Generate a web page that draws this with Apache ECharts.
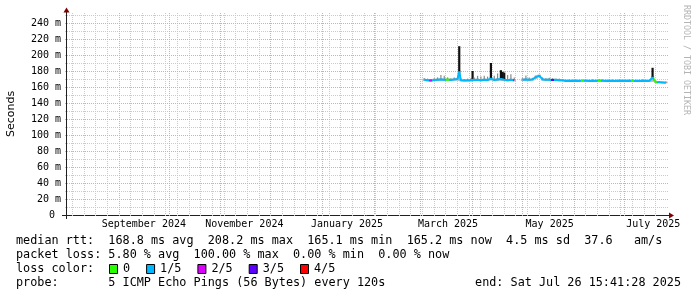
<!DOCTYPE html>
<html><head><meta charset="utf-8">
<script src="https://cdn.jsdelivr.net/npm/echarts@6/dist/echarts.min.js"></script>
<style>html,body{margin:0;padding:0;background:#fff}#c{width:697px;height:297px}</style>
</head><body><div id="c"></div>
<script>
// ---------------- data ----------------
const startTime = '2024-07-31 15:41:28';
const endTime = '2025-07-26 15:41:28';

const dates = [
 '2025-03-03','2025-03-05','2025-03-07','2025-03-09','2025-03-11','2025-03-13','2025-03-15','2025-03-17',
 '2025-03-19','2025-03-21','2025-03-23','2025-03-24','2025-03-25','2025-03-27','2025-03-29','2025-03-31',
 '2025-04-01','2025-04-02','2025-04-04','2025-04-06','2025-04-08','2025-04-10','2025-04-12','2025-04-14',
 '2025-04-16','2025-04-18','2025-04-19','2025-04-20','2025-04-22','2025-04-24','2025-04-26',
 '2025-04-28',
 '2025-05-01','2025-05-03','2025-05-05','2025-05-07','2025-05-09','2025-05-11','2025-05-13','2025-05-15',
 '2025-05-17','2025-05-19','2025-05-21','2025-05-23','2025-05-25','2025-05-27','2025-05-29','2025-05-31',
 '2025-06-02','2025-06-04','2025-06-06','2025-06-08','2025-06-10','2025-06-12','2025-06-14','2025-06-16',
 '2025-06-18','2025-06-20','2025-06-22','2025-06-24','2025-06-26','2025-06-28','2025-06-30',
 '2025-07-02','2025-07-04','2025-07-06','2025-07-08','2025-07-10','2025-07-12','2025-07-14','2025-07-16',
 '2025-07-18','2025-07-20','2025-07-22','2025-07-24','2025-07-26'
];
// median rtt (ms)
const median = [
 169.0,168.5,168.0,168.8,169.2,169.5,169.0,169.3,168.8,169.5,170.0,179.0,168.3,168.0,168.2,168.5,
 169.5,168.8,169.0,168.5,169.2,168.8,170.5,168.8,169.5,170.0,169.5,169.0,168.5,169.0,168.5,
 null,
 169.0,169.5,169.0,169.5,172.5,174.0,169.5,169.0,169.2,168.8,169.0,168.5,168.5,167.5,167.8,167.5,
 167.8,167.5,168.0,167.8,167.5,167.8,167.5,168.0,167.8,167.5,167.8,167.5,167.6,167.8,167.5,
 167.6,167.8,167.5,167.6,167.5,167.8,167.5,167.6,172.0,166.0,165.8,165.5,165.2
];
// smoke: lowest and highest ping (ms)
const smokeLo = [
 167.5,167.0,166.5,167.5,167.5,168.0,167.5,167.8,167.5,168.0,168.0,168.0,167.0,166.8,167.0,167.0,
 167.5,167.3,167.5,167.0,167.5,167.3,168.0,167.3,167.5,168.0,167.5,167.5,167.0,167.5,167.0,
 null,
 167.5,168.0,167.5,168.0,170.0,172.0,168.0,167.5,167.5,167.3,167.5,167.0,167.0,166.5,166.5,166.3,
 166.5,166.3,166.5,166.5,166.3,166.5,166.3,166.5,166.5,166.3,166.5,166.3,166.3,166.5,166.3,
 166.3,166.5,166.3,166.3,166.3,166.5,166.3,166.3,166.5,165.0,164.8,164.5,164.5
];
const smokeHi = [
 171.0,170.5,170.0,171.0,172.0,175.0,174.0,172.0,171.0,172.0,173.0,211.0,171.0,170.0,170.5,171.0,
 180.0,172.0,174.0,173.0,174.0,173.0,190.0,174.0,177.0,181.0,179.0,178.0,175.0,176.0,172.0,
 null,
 171.0,174.5,172.0,171.5,174.5,175.5,172.0,171.0,171.5,171.0,170.5,170.5,170.0,169.5,169.5,169.5,
 169.5,169.5,169.5,169.5,169.5,169.5,169.5,170.0,169.5,169.5,169.5,169.5,169.5,169.5,169.5,
 169.5,169.5,169.5,169.5,169.5,169.5,169.5,169.5,184.0,168.0,167.5,167.0,167.0
];
// loss class per point (0 = none, 1 = 1/5, 2 = 2/5, 3 = 3/5, 4 = 4/5)
const lossLevel = [
 1,1,2,1,1,1,1,0,1,1,1,1,1,1,1,1,
 1,1,1,1,1,1,1,1,1,1,1,1,1,1,2,
 null,
 1,1,1,1,1,1,1,1,1,3,1,1,1,1,1,1,
 1,1,0,1,1,1,1,0,1,1,1,1,1,1,1,
 1,1,0,1,1,1,1,1,1,0,1,1,1
];

const xLabelTimes = ['2024-09-15 18:00','2024-11-15 01:00','2025-01-15 16:00','2025-03-17 06:00','2025-05-17 06:00','2025-07-18 10:00'];
const xLabelTexts = ['September 2024','November 2024','January 2025','March 2025','May 2025','July 2025'];
const yTickValues = [0,20,40,60,80,100,120,140,160,180,200,220,240];

const lossNames = ['0','1/5','2/5','3/5','4/5'];
const lossColors = ['#26ff00','#00b8ff','#dd00ff','#5e00ff','#ff0000'];

const legendRtt = 'median rtt:  168.8 ms avg  208.2 ms max  165.1 ms min  165.2 ms now  4.5 ms sd  37.6   am/s';
const legendLoss = 'packet loss: 5.80 % avg  100.00 % max  0.00 % min  0.00 % now';
const legendLossColor = 'loss color:';
const legendProbe = 'probe:       5 ICMP Echo Pings (56 Bytes) every 120s';
const legendEnd = 'end: Sat Jul 26 15:41:28 2025';
const watermark = 'RRDTOOL / TOBI OETIKER';
const yTitle = 'Seconds';

// ---------------- helpers ----------------
const DAY = 86400000;
function ts(s) {
  const parts = s.split(' ');
  const d = parts[0].split('-').map(Number);
  let h = 0, mi = 0, se = 0;
  if (parts[1]) { const tt = parts[1].split(':').map(Number); h = tt[0]; mi = tt[1] || 0; se = tt[2] || 0; }
  return new Date(d[0], d[1] - 1, d[2], h, mi, se).getTime();
}
const xMin = ts(startTime), xMax = ts(endTime);
const L = 67, T = 15, W = 600, H = 200;
const MONO = '"DejaVu Sans Mono"';
const GRID_MINOR = '#cacaca', GRID_MAJOR = '#f4a0a0';
const xLabelValues = xLabelTimes.map(ts);

// grid line positions
const weekLines = [];
for (let d = new Date(2024, 7, 4); d.getTime() <= xMax; d.setDate(d.getDate() + 7)) weekLines.push(d.getTime());
const monthLines = [];
for (let m = 8; m <= 18; m++) monthLines.push(new Date(2024, m, 1).getTime());
const minorY = [], majorY = [];
for (let v = 10; v <= 250; v += 20) minorY.push(v);
for (let v = 20; v <= 240; v += 20) majorY.push(v);

const medianData = dates.map((d, i) => [ts(d), median[i]]);
const smokeData = [];
dates.forEach((d, i) => { if (smokeLo[i] != null) smokeData.push([ts(d), smokeLo[i], smokeHi[i], median[i]]); });

const pieces = [];
dates.forEach((d, i) => {
  if (lossLevel[i] != null && lossLevel[i] !== 1) {
    const c = ts(d);
    pieces.push({ gt: c - 0.9 * DAY, lte: c + 0.9 * DAY, color: lossColors[lossLevel[i]] });
  }
});

function vGridSeries(list, color) {
  return {
    type: 'custom', silent: true, z: 1, data: list.map(v => [v, 0]),
    renderItem: function (params, api) {
      const cs = params.coordSys;
      const x = Math.floor(api.coord([api.value(0), 0])[0]) + 0.5;
      return { type: 'line', shape: { x1: x, y1: cs.y - 2, x2: x, y2: cs.y + cs.height + 2 },
        style: { stroke: color, fill: null, lineWidth: 1, lineDash: [1, 1] } };
    }
  };
}
function hGridSeries(list, color) {
  return {
    type: 'custom', silent: true, z: 1, data: list.map(v => [xMin, v]),
    renderItem: function (params, api) {
      const cs = params.coordSys;
      const y = Math.floor(api.coord([api.value(0), api.value(1)])[1]) + 0.5;
      return { type: 'line', shape: { x1: cs.x - 2, y1: y, x2: cs.x + cs.width + 2, y2: y },
        style: { stroke: color, fill: null, lineWidth: 1, lineDash: [1, 1] } };
    }
  };
}

// ---------------- chart ----------------
const chart = echarts.init(document.getElementById('c'), null, { renderer: 'canvas', devicePixelRatio: 1 });

const graphics = [];
graphics.push({ type: 'line', shape: { x1: L - 5, y1: T + H + 0.5, x2: L + W + 4, y2: T + H + 0.5 }, style: { stroke: '#202020', lineWidth: 1 } });
graphics.push({ type: 'line', shape: { x1: L - 0.5, y1: T + H + 4, x2: L - 0.5, y2: T - 4 }, style: { stroke: '#202020', lineWidth: 1 } });
graphics.push({ type: 'polygon', shape: { points: [[L + W + 2, T + H - 2.5], [L + W + 7, T + H + 0.5], [L + W + 2, T + H + 3.5]] }, style: { fill: '#7f0000' } });
graphics.push({ type: 'polygon', shape: { points: [[L - 3.5, T - 2.5], [L - 0.5, T - 7.5], [L + 2.5, T - 2.5]] }, style: { fill: '#7f0000' } });
graphics.push({ type: 'text', x: 11, y: T + H / 2 - 1, rotation: Math.PI / 2,
  style: { text: yTitle, font: '11px "DejaVu Sans"', fill: '#000', align: 'center', verticalAlign: 'middle', textAlign: 'center', textVerticalAlign: 'middle' } });
graphics.push({ type: 'text', x: 686, y: 5, rotation: -Math.PI / 2,
  style: { text: watermark, font: '8.3px ' + MONO, fill: '#b4b4b4', align: 'left', verticalAlign: 'middle', textAlign: 'left', textVerticalAlign: 'middle' } });
const LF = '11.8px ' + MONO, CW = 7.1;
function legendText(txt, x, y, align) {
  graphics.push({ type: 'text', x: x, y: y, style: { text: txt, font: LF, fill: '#000', align: align || 'left', verticalAlign: 'middle', textAlign: align || 'left', textVerticalAlign: 'middle' } });
}
legendText(legendRtt, 16, 241);
legendText(legendLoss, 16, 255);
legendText(legendLossColor, 16, 269);
legendText(legendProbe, 16, 283);
legendText(legendEnd, 681, 283, 'right');
let bx = 109;
lossNames.forEach((n, i) => {
  graphics.push({ type: 'rect', shape: { x: bx + 0.5, y: 264.5, width: 8, height: 9 }, style: { fill: lossColors[i], stroke: '#000', lineWidth: 1 } });
  legendText(n, bx + 14, 269);
  bx = bx + 14 + n.length * CW + 16;
});

chart.setOption({
  animation: false,
  backgroundColor: '#fff',
  grid: { left: L, top: T, width: W, height: H, containLabel: false },
  xAxis: {
    type: 'value', min: xMin, max: xMax, scale: true,
    axisLine: { show: false }, axisTick: { show: false }, splitLine: { show: false },
    axisLabel: {
      customValues: xLabelValues,
      formatter: function (v) { const i = xLabelValues.indexOf(v); return i >= 0 ? xLabelTexts[i] : ''; },
      fontFamily: MONO, fontSize: 10, color: '#000', margin: 4, showMinLabel: true, showMaxLabel: true
    }
  },
  yAxis: {
    type: 'value', min: 0, max: 250, interval: 20,
    axisLine: { show: false }, axisTick: { show: false }, splitLine: { show: false },
    axisLabel: {
      customValues: yTickValues,
      formatter: function (v) { if (yTickValues.indexOf(v) < 0) return ''; return v === 0 ? '0 ' : v + ' m'; },
      fontFamily: MONO, fontSize: 10, color: '#000', margin: 6
    }
  },
  visualMap: { type: 'piecewise', show: false, dimension: 0, seriesIndex: 5, pieces: pieces, outOfRange: { color: lossColors[1] } },
  graphic: graphics,
  series: [
    vGridSeries(weekLines, GRID_MINOR),
    hGridSeries(minorY, GRID_MINOR),
    vGridSeries(monthLines, GRID_MAJOR),
    hGridSeries(majorY, GRID_MAJOR),
    {
      type: 'custom', silent: true, z: 2, data: smokeData,
      renderItem: function (params, api) {
        const t = api.value(0), lo = api.value(1), hi = api.value(2), med = api.value(3);
        const pLo = api.coord([t, lo]), pHi = api.coord([t, hi]);
        const baseTop = api.coord([t, Math.min(hi, med + 1.5)]);
        const d = hi - med;
        const children = [{ type: 'rect', shape: { x: pLo[0] - 1.7, y: baseTop[1], width: 3.4, height: pLo[1] - baseTop[1] }, style: { fill: '#b8b8b8' } }];
        if (hi > med + 1.5) {
          const big = d >= 9;
          const w = big ? 2.2 : 1.2;
          children.push({ type: 'rect', shape: { x: pHi[0] - w / 2, y: pHi[1], width: w, height: baseTop[1] - pHi[1] + 1 }, style: { fill: big ? '#111111' : '#8a8a8a' } });
        }
        return { type: 'group', children: children };
      }
    },
    {
      type: 'line', z: 3, data: medianData, showSymbol: false, symbol: 'none', connectNulls: false,
      lineStyle: { width: 2 }, silent: true
    }
  ]
});
</script>
</body></html>
